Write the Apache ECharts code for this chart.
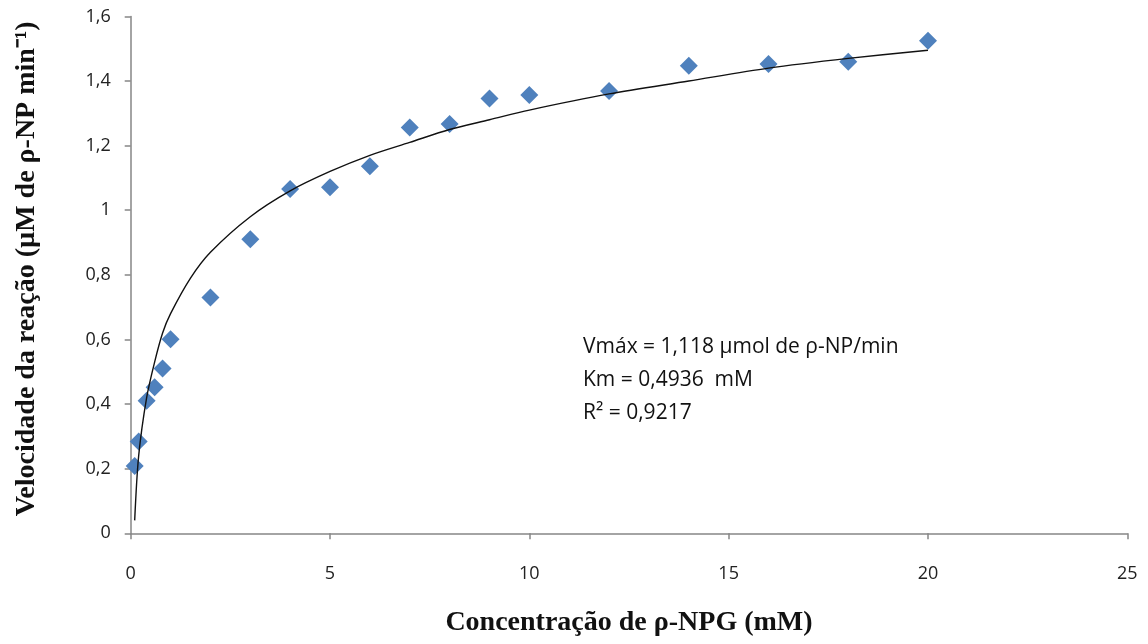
<!DOCTYPE html>
<html>
<head>
<meta charset="utf-8">
<script src="https://cdn.jsdelivr.net/npm/echarts@6/dist/echarts.min.js"></script>
<style>html,body{margin:0;padding:0;background:#fff}#c{width:1148px;height:644px}</style>
</head>
<body>
<div id="c"></div>
<script>
// Measured data points (concentration mM, velocity)
const concentration = [0.1, 0.2, 0.4, 0.6, 0.8, 1, 2, 3, 4, 5, 6, 7, 8, 9, 10, 12, 14, 16, 18, 20];
const velocity = [0.208, 0.284, 0.410, 0.452, 0.510, 0.601, 0.730, 0.910, 1.066, 1.071, 1.136, 1.256, 1.267, 1.346, 1.357, 1.369, 1.447, 1.453, 1.460, 1.525];
// Trend curve
const curveX = [0.1, 0.2, 0.4, 0.6, 0.8, 1, 1.5, 2, 3, 4, 5, 6, 7, 8, 9, 10, 12, 14, 16, 18, 20];
const curveY = [0.04, 0.24, 0.42, 0.53, 0.62, 0.68, 0.79, 0.87, 0.98, 1.06, 1.12, 1.17, 1.21, 1.25, 1.28, 1.31, 1.36, 1.40, 1.44, 1.47, 1.495];
const xTicks = [0, 5, 10, 15, 20, 25];
const yTicks = [0, 0.2, 0.4, 0.6, 0.8, 1, 1.2, 1.4, 1.6];
const annotation = ['Vmáx = 1,118 µmol de ρ-NP/min', 'Km = 0,4936  mM', 'R² = 0,9217'];

const chart = echarts.init(document.getElementById('c'));
const axisColor = '#868686';
const lbl = {fontFamily: 'Open Sans', fontSize: 18, color: '#222'};
chart.setOption({
  animation: false,
  backgroundColor: '#fff',
  grid: {left: 130.7, right: 20.7, top: 16.4, bottom: 110.7},
  xAxis: {
    type: 'value', min: xTicks[0], max: xTicks[xTicks.length - 1], interval: 5,
    splitLine: {show: false},
    axisLine: {lineStyle: {color: axisColor, width: 1.5}},
    axisTick: {inside: false, length: 6, lineStyle: {color: axisColor, width: 1.5}},
    axisLabel: Object.assign({margin: 32}, lbl),
    name: 'Concentração de ρ-NPG (mM)',
    nameLocation: 'middle', nameGap: 75,
    nameTextStyle: {fontFamily: 'Liberation Serif', fontWeight: 'bold', fontSize: 28, color: '#111'}
  },
  yAxis: {
    type: 'value', min: yTicks[0], max: yTicks[yTicks.length - 1], interval: 0.2,
    splitLine: {show: false},
    axisLine: {show: true, lineStyle: {color: axisColor, width: 1.5}},
    axisTick: {show: true, inside: false, length: 6, lineStyle: {color: axisColor, width: 1.5}},
    axisLabel: Object.assign({margin: 20, formatter: v => String(+v.toFixed(1)).replace('.', ',')}, lbl),
    name: 'Velocidade da reação (µM de ρ-NP min⁻¹)',
    nameLocation: 'middle', nameGap: 90,
    nameTextStyle: {fontFamily: 'Liberation Serif', fontWeight: 'bold', fontSize: 28, color: '#111', padding: [0, 0, 0, 12]}
  },
  series: [
    {
      type: 'line', data: curveX.map((x, i) => [x, curveY[i]]),
      smooth: 0.3, showSymbol: false, symbol: 'none',
      lineStyle: {color: '#111', width: 1.4}, z: 3
    },
    {
      type: 'scatter', data: concentration.map((x, i) => [x, velocity[i]]),
      symbol: 'diamond', symbolSize: 18,
      itemStyle: {color: '#4F81BD', opacity: 1}, z: 2
    }
  ],
  graphic: annotation.map((t, i) => ({
    type: 'text', x: 583, y: 347 + i * 33,
    style: {text: t, fontFamily: 'Open Sans', fontSize: 21, fill: '#111', verticalAlign: 'middle'}
  }))
});
</script>
</body>
</html>
